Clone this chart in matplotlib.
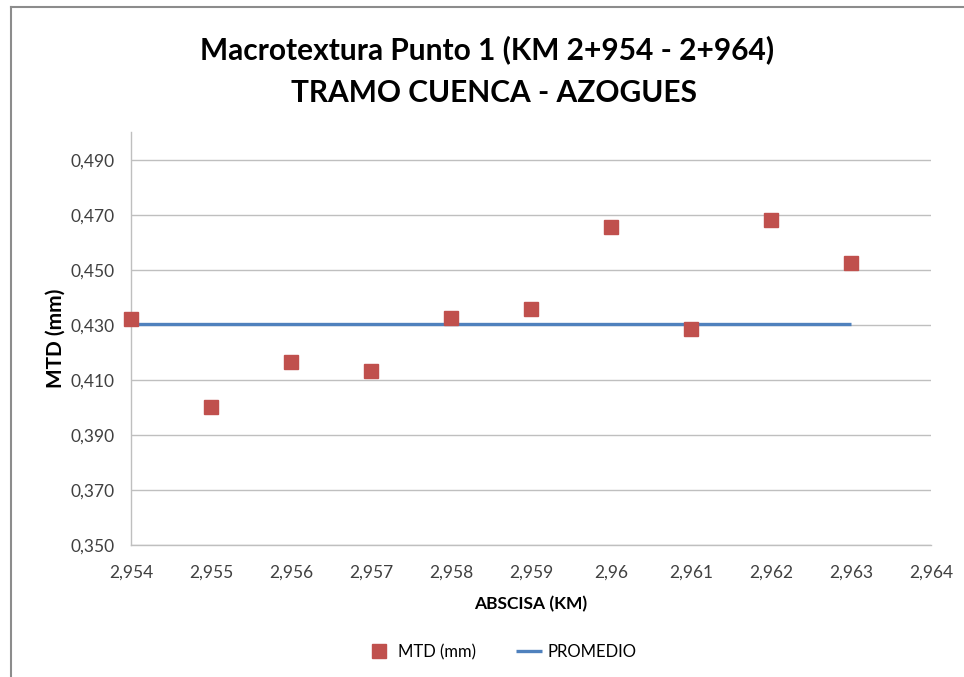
import numpy as np
import matplotlib

matplotlib.use('Agg')
import matplotlib.pyplot as plt
from matplotlib.ticker import FuncFormatter, MultipleLocator
from matplotlib.lines import Line2D

# data
abscisa = [2.954, 2.955, 2.956, 2.957, 2.958, 2.959, 2.960, 2.961, 2.962, 2.963]
mtd = [0.4322, 0.4002, 0.4165, 0.4133, 0.4325, 0.4358, 0.4656, 0.4285, 0.4682, 0.4525]
promedio_x = [2.954, 2.963]
promedio_y = [0.4304, 0.4304]

red = '#C0504D'
blue = '#4F81BD'
grid_grey = '#BFBFBF'

plt.rcParams['font.family'] = ['Lato', 'DejaVu Sans']

fig = plt.figure(figsize=(9.64, 6.77), dpi=100)
ax = fig.add_axes([0.1359, 0.1950, 0.8299, 0.6093])

ax.plot(promedio_x, promedio_y, color=blue, lw=2.4, solid_capstyle='butt',
        label='PROMEDIO', zorder=2)
ax.plot(abscisa, mtd, ls='none', marker='s', ms=10, color=red,
        markeredgecolor=red, label='MTD (mm)', zorder=3, clip_on=False)

ax.set_xlim(2.954, 2.964)
ax.set_ylim(0.350, 0.500)
ax.xaxis.set_major_locator(MultipleLocator(0.001))
ax.set_yticks(np.arange(0.350, 0.4901, 0.020))


def fmt_x(v, pos):
    s = ('%.3f' % v).rstrip('0').rstrip('.')
    return s.replace('.', ',')


def fmt_y(v, pos):
    return ('%.3f' % v).replace('.', ',')


ax.xaxis.set_major_formatter(FuncFormatter(fmt_x))
ax.yaxis.set_major_formatter(FuncFormatter(fmt_y))
ax.tick_params(length=0, labelsize=12.5, colors='#404040')
ax.tick_params(axis='y', pad=12)
ax.tick_params(axis='x', pad=14)

ax.grid(axis='y', color=grid_grey, lw=1)
ax.set_axisbelow(True)
for side in ['top', 'right']:
    ax.spines[side].set_visible(False)
for side in ['left', 'bottom']:
    ax.spines[side].set_color(grid_grey)
    ax.spines[side].set_linewidth(1)

ax.set_xlabel('ABSCISA (KM)', fontsize=12.5, fontweight='bold', labelpad=11)
ax.set_ylabel('MTD (mm)', fontsize=15, fontweight='bold', labelpad=3)

fig.text(0.505, 0.926, 'Macrotextura Punto 1 (KM 2+954 - 2+964)', ha='center',
         va='center', fontsize=21.5, fontweight='bold')
fig.text(0.512, 0.862, 'TRAMO CUENCA - AZOGUES', ha='center', va='center',
         fontsize=21.5, fontweight='bold')

handles, labels = ax.get_legend_handles_labels()
leg = fig.legend([handles[1], handles[0]], [labels[1], labels[0]], loc='center',
                 bbox_to_anchor=(0.52, 0.037), ncol=2, frameon=False,
                 fontsize=12, handlelength=1.6, handletextpad=0.3,
                 columnspacing=2.4)

# outer chart frame
fig.add_artist(Line2D([0.0112, 0.0112], [0.0, 0.989], color='#8C8C8C', lw=1.5))
fig.add_artist(Line2D([0.0112, 1.0], [0.989, 0.989], color='#8C8C8C', lw=1.5))

plt.savefig('out.png', dpi=100)
